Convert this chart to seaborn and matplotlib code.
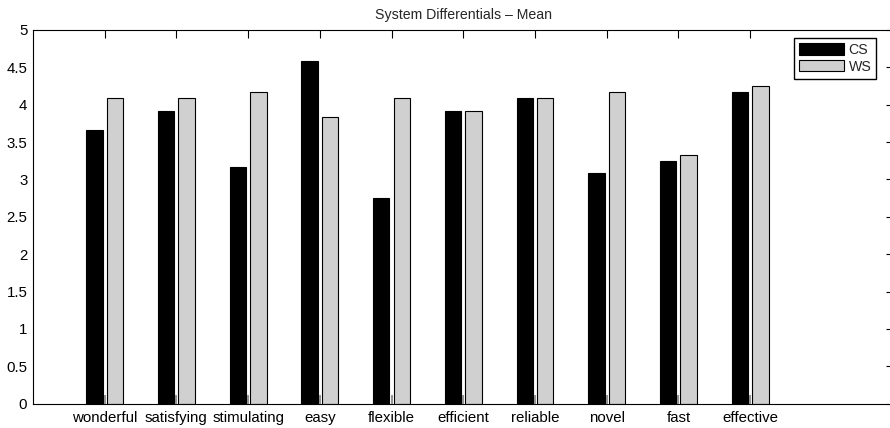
import matplotlib
matplotlib.use("Agg")
import matplotlib.pyplot as plt
import seaborn as sns
import pandas as pd
from matplotlib.ticker import FormatStrFormatter, MultipleLocator

# Mean ratings per differential for the two systems
categories = ["wonderful", "satisfying", "stimulating", "easy", "flexible",
              "efficient", "reliable", "novel", "fast", "effective"]
cs_mean = [3.667, 3.917, 3.167, 4.583, 2.750, 3.917, 4.083, 3.083, 3.250, 4.167]
ws_mean = [4.083, 4.083, 4.167, 3.833, 4.083, 3.917, 4.083, 4.167, 3.333, 4.250]
systems = ["CS", "WS"]

df = pd.DataFrame({
    "category": categories * 2,
    "mean": cs_mean + ws_mean,
    "system": [systems[0]] * len(categories) + [systems[1]] * len(categories),
})

sns.set_style("white")
plt.rcParams["font.family"] = ["Liberation Sans", "DejaVu Sans"]

fig = plt.figure(figsize=(8.9, 4.28), dpi=100)
# the axes run slightly past the right edge of the canvas
ax = fig.add_axes([0.037, 0.057, 0.967, 0.873])

sns.barplot(data=df, x="category", y="mean", hue="system", order=categories,
            hue_order=systems, palette=["#000000", "#d0d0d0"],
            width=0.5714, gap=0.2, edgecolor="black", linewidth=0.8,
            saturation=1, ax=ax, legend=True)

# small baseline marks at each group centre
ax.vlines(range(len(categories)), 0, 0.12, color="#808080", lw=1.2, zorder=3)

ax.set_xlim(-1, 11)
ax.set_ylim(0, 5)
ax.yaxis.set_major_locator(MultipleLocator(0.5))
ax.yaxis.set_major_formatter(FormatStrFormatter("%g"))
ax.set_xlabel("")
ax.set_ylabel("")
ax.set_title("System Differentials \u2013 Mean", fontsize=10.2, pad=8)

for s in ax.spines.values():
    s.set_visible(True)
    s.set_color("black")
    s.set_linewidth(0.8)
ax.tick_params(direction="in", top=True, right=True, length=6, width=0.8,
               labelsize=10.8, colors="black", pad=5)
ax.tick_params(axis="y", pad=4)

leg = ax.legend(loc="upper right", bbox_to_anchor=(0.980, 0.979),
                fontsize=10.2, frameon=True, fancybox=False,
                edgecolor="black", framealpha=1, handlelength=3.2,
                handleheight=0.85, borderpad=0.35, labelspacing=0.2,
                handletextpad=0.3, borderaxespad=0)
leg.get_frame().set_linewidth(1.0)

fig.savefig("out.png", dpi=100)
